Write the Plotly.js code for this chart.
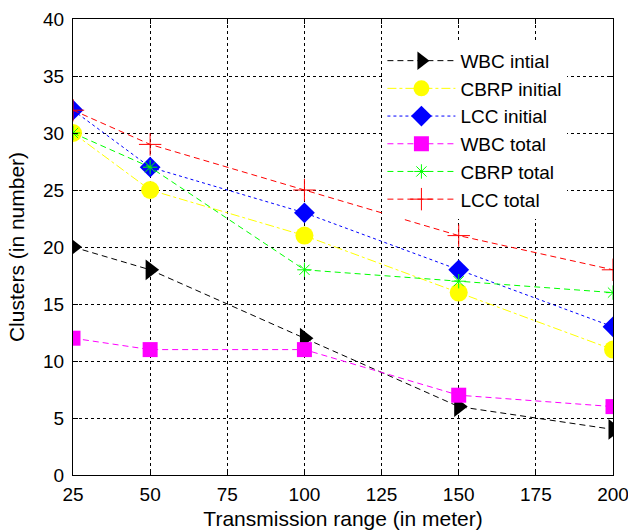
<!DOCTYPE html>
<html><head><meta charset="utf-8">
<script src="https://cdn.plot.ly/plotly-3.0.1.min.js"></script>
<style>body{margin:0;background:#fff}#c{width:628px;height:530px}</style>
</head><body><div id="c"></div>
<script>
var ranges = [25, 50, 100, 150, 200];
var wbcInitial = [20, 18, 12, 6, 4];
var cbrpInitial = [30, 25, 21, 16, 11];
var lccInitial = [32, 27, 23, 18, 13];
var wbcTotal = [12, 11, 11, 7, 6];
var cbrpTotal = [30, 27, 18, 17, 16];
var lccTotal = [32, 29, 25, 21, 18];
var seriesNames = ["WBC intial", "CBRP initial", "LCC initial", "WBC total", "CBRP total", "LCC total"];
var xTicks = [25, 50, 75, 100, 125, 150, 175, 200];
var yTicks = [0, 5, 10, 15, 20, 25, 30, 35, 40];

var F = "Arial, 'Liberation Sans', sans-serif";
function tr(y, name, color, dash, sym, size, mcolor, mline){
  return {x: ranges, y: y, name: name, mode: "lines+markers", type: "scatter",
    line: {color: color, width: 1, dash: dash},
    marker: {symbol: sym, size: size, color: mcolor, line: mline}};
}
var data = [
  tr(wbcInitial, seriesNames[0], "#000000", "6px,4px", "triangle-right", 18, "#000000", {width:0}),
  tr(cbrpInitial, seriesNames[1], "#ffff00", "dashdot", "circle", 18, "#ffff00", {width:0}),
  tr(lccInitial, seriesNames[2], "#0000ff", "dot", "diamond", 16, "#0000ff", {width:0}),
  tr(wbcTotal, seriesNames[3], "#ff00ff", "6px,4px", "square", 15, "#ff00ff", {width:0}),
  tr(cbrpTotal, seriesNames[4], "#00ff00", "6px,4px", "asterisk-open", 12, "#00ff00", {width:1, color:"#00ff00"}),
  tr(lccTotal, seriesNames[5], "#ff0000", "6px,4px", "cross-thin-open", 16, "#ff0000", {width:1, color:"#ff0000"})
];
var axBase = {
  showline: true, linecolor: "#000", linewidth: 1, mirror: "ticks",
  ticks: "inside", ticklen: 5, tickcolor: "#000",
  showgrid: true, gridcolor: "#000", gridwidth: 1, griddash: "3px,3px",
  zeroline: false, ticklabeloverflow: "allow",
  tickfont: {family: F, size: 19, color: "#000"}
};
var layout = {
  width: 628, height: 530,
  margin: {l: 73, r: 15, t: 19, b: 55},
  paper_bgcolor: "#fff", plot_bgcolor: "#fff",
  font: {family: F, color: "#000"},
  xaxis: Object.assign({}, axBase, {range: [25, 200], tickmode: "array", tickvals: xTicks,
    ticklabelstandoff: 2,
    title: {text: "Transmission range (in meter)", font: {family: F, size: 21}, standoff: 10}}),
  yaxis: Object.assign({}, axBase, {range: [0, 40], tickmode: "array", tickvals: yTicks,
    ticklabelstandoff: 4,
    title: {text: "Clusters (in number)", font: {family: F, size: 21}, standoff: 12}}),
  showlegend: true,
  legend: {x: 0.573, y: 0.95, xanchor: "left", yanchor: "top", bgcolor: "#fff",
    borderwidth: 0, font: {family: F, size: 19, color: "#000"}, itemwidth: 68}
};
Plotly.newPlot("c", data, layout, {displayModeBar: false, staticPlot: true});
</script></body></html>
